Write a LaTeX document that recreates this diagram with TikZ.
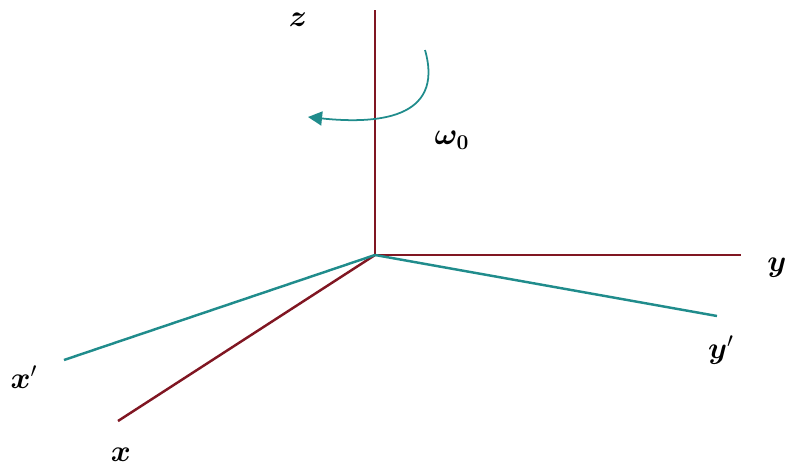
\documentclass[tikz,border=0pt]{standalone}
\usepackage{tikz}
\usetikzlibrary{arrows.meta}
\usepackage{amsmath}
\usepackage{bm}
\definecolor{axisred}{RGB}{128,22,34}
\definecolor{axisteal}{RGB}{32,140,140}

\begin{document}
\begin{tikzpicture}[
        x=0.02cm, y=-0.02cm,
        axis/.style={draw=axisred, line width=1.4pt},
        rot/.style={draw=axisteal, line width=1.4pt},
        spin/.style={draw=axisteal, line width=1pt, -{Triangle[length=8pt, width=8pt]}},
        lbl/.style={font=\LARGE, inner sep=1pt}]
        \useasboundingbox (0,0) rectangle (786,466);
        \coordinate (o) at (375,255);
        \coordinate (zend) at (375,10);
        \coordinate (yend) at (741,255);
        \coordinate (xend) at (118,421);
        \coordinate (xpend) at (64,360);
        \coordinate (ypend) at (717,316);
        \coordinate (sa) at (425,50);
        \coordinate (sb) at (308,117);
        \draw[axis] (o) -- (zend);
        \draw[axis] (o) -- (yend);
        \draw[axis] (o) -- (xend);
        \draw[rot] (o) -- (xpend);
        \draw[rot] (o) -- (ypend);
        \draw[spin] (sa) .. controls (445,120) and (375,124) .. (sb);
        \node[lbl] (zl) at (298,20) {$\bm{z}$};
        \node[lbl] (yl) at (777,268) {$\bm{y}$};
        \node[lbl] (ypl) at (721,350) {$\bm{y}'$};
        \node[lbl] (xpl) at (24,377) {$\bm{x}'$};
        \node[lbl] (xl) at (121,455) {$\bm{x}$};
        \node[lbl] (wl) at (452,140) {$\bm{\omega}_{\bm{0}}$};
    \end{tikzpicture}
\end{document}
